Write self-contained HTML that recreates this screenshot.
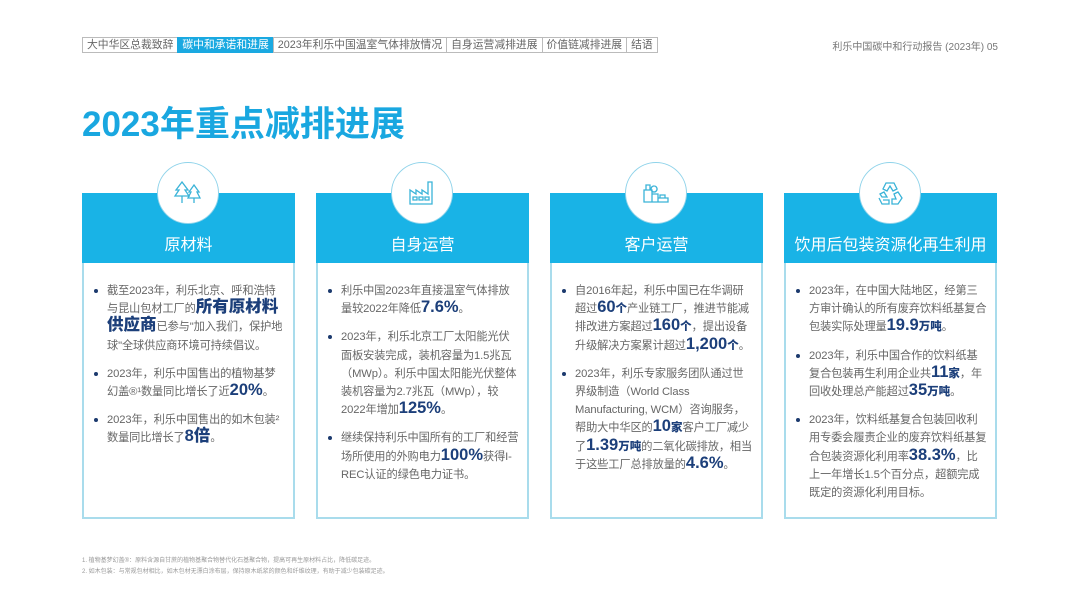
<!DOCTYPE html>
<html><head><meta charset="utf-8">
<style>
*{margin:0;padding:0;box-sizing:border-box}
body{width:1080px;height:616px;background:#fff;font-family:"Liberation Sans","Noto Sans CJK SC",sans-serif;position:relative;overflow:hidden;color:#555}
.nav{position:absolute;top:37px;left:82px;display:flex;font-size:10.8px;color:#666}
.nav div{border:1px solid #bbb;margin-right:-1px;height:16px;line-height:14px;padding:0 4px;white-space:nowrap}
.nav .on{background:#1aa9e1;color:#fff;border-color:#1aa9e1}
.pg{position:absolute;top:38px;right:82px;font-size:10px;color:#777}
h1{position:absolute;left:82px;top:96px;font-size:35px;color:#19a7e0;font-weight:bold}
.card{position:absolute;top:193px;width:213px;height:326px;border:2px solid #a9dcec}
.hd{position:absolute;left:-2px;top:-2px;width:213px;height:70px;background:#19b3e6;color:#fff;font-size:16px;text-align:center;padding-top:38px}
.ic{position:absolute;left:74px;top:-32px;width:60px;height:60px;border-radius:50%;border:3px solid #fff;box-shadow:0 0 0 1px #8fd3ea;background:#fff}
.ic svg{position:absolute;left:12px;top:12px;width:30px;height:30px;fill:none;stroke:#3ab3d8;stroke-width:1.3}
ul{position:absolute;top:87px;left:10px;right:8px;list-style:none;font-size:11.2px;line-height:18.2px;color:#666;letter-spacing:-0.1px}
li{position:relative;padding-left:13px;margin-bottom:10px}
li:before{content:"";position:absolute;left:0;top:7px;width:4px;height:4px;border-radius:50%;background:#1c3a6e}
b{color:#1c3f7a;font-size:16.5px;font-weight:900;letter-spacing:0;line-height:10px}
b span{font-size:11.5px}
.fn{position:absolute;left:82px;font-size:6px;color:#999}
</style></head><body>
<div class="nav">
<div>大中华区总裁致辞</div>
<div class="on">碳中和承诺和进展</div>
<div>2023年利乐中国温室气体排放情况</div>
<div>自身运营减排进展</div>
<div>价值链减排进展</div>
<div>结语</div>
</div>
<div class="pg">利乐中国碳中和行动报告 (2023年) 05</div>
<h1>2023年重点减排进展</h1>

<div class="card" style="left:82px">
<div class="hd">原材料</div>
<div class="ic"><svg viewBox="0 0 30 30"><path d="M9 4 L3 12 H6 L2 18 H16 L12 12 H15 Z M9 18 V25 M21 7 L16 14 H18 L15 20 H27 L24 14 H26 Z M21 20 V25"/></svg></div>
<ul><li>截至2023年，利乐北京、呼和浩特与昆山包材工厂的<b>所有原材料供应商</b>已参与"加入我们，保护地球"全球供应商环境可持续倡议。</li>
<li>2023年，利乐中国售出的植物基梦幻盖®¹数量同比增长了近<b>20%</b>。</li>
<li>2023年，利乐中国售出的如木包装²数量同比增长了<b>8倍</b>。</li></ul>
</div>

<div class="card" style="left:316px">
<div class="hd">自身运营</div>
<div class="ic"><svg viewBox="0 0 30 30"><path d="M3 26 V12 L9 16 V12 L15 16 V12 L21 16 V4 H25 V26 Z M6 19 H10 V22 H6 Z M12 19 H16 V22 H12 Z M18 19 H22 V22 H18 Z"/></svg></div>
<ul><li>利乐中国2023年直接温室气体排放量较2022年降低<b>7.6%</b>。</li>
<li>2023年，利乐北京工厂太阳能光伏面板安装完成，装机容量为1.5兆瓦（MWp）。利乐中国太阳能光伏整体装机容量为2.7兆瓦（MWp），较2022年增加<b>125%</b>。</li>
<li>继续保持利乐中国所有的工厂和经营场所使用的外购电力<b>100%</b>获得I-REC认证的绿色电力证书。</li></ul>
</div>

<div class="card" style="left:550px">
<div class="hd">客户运营</div>
<div class="ic"><svg viewBox="0 0 30 30"><path d="M3 24 V12 H11 V24 Z M5 12 V7 H9 V12 M11 16 H17 V24 H11 M17 20 H27 V24 H17 M19 20 V17 H24 V20 M13 8 A3 3 0 1 0 13.1 8"/></svg></div>
<ul><li>自2016年起，利乐中国已在华调研超过<b>60<span>个</span></b>产业链工厂，推进节能减排改进方案超过<b>160<span>个</span></b>，提出设备升级解决方案累计超过<b>1,200<span>个</span></b>。</li>
<li>2023年，利乐专家服务团队通过世界级制造（World Class Manufacturing, WCM）咨询服务，帮助大中华区的<b>10<span>家</span></b>客户工厂减少了<b>1.39<span>万吨</span></b>的二氧化碳排放，相当于这些工厂总排放量的<b>4.6%</b>。</li></ul>
</div>

<div class="card" style="left:784px">
<div class="hd">饮用后包装资源化再生利用</div>
<div class="ic"><svg viewBox="0 0 30 30"><path d="M11 5 H19 L22 11 L18 13 L15 8 L12 13 L8 11 Z M5 16 L9 14 L12 19 H7 Z M4 20 L7 26 H14 V22 H8 M23 14 L27 20 L23 26 H17 V21 L21 21 L19 16 Z"/></svg></div>
<ul><li>2023年，在中国大陆地区，经第三方审计确认的所有废弃饮料纸基复合包装实际处理量<b>19.9<span>万吨</span></b>。</li>
<li>2023年，利乐中国合作的饮料纸基复合包装再生利用企业共<b>11<span>家</span></b>，年回收处理总产能超过<b>35<span>万吨</span></b>。</li>
<li>2023年，饮料纸基复合包装回收利用专委会履责企业的废弃饮料纸基复合包装资源化利用率<b>38.3%</b>，比上一年增长1.5个百分点，超额完成既定的资源化利用目标。</li></ul>
</div>

<div class="fn" style="top:555px">1. 植物基梦幻盖®：原料含源自甘蔗的植物基聚合物替代化石基聚合物，提高可再生原材料占比，降低碳足迹。</div>
<div class="fn" style="top:566px">2. 如木包装：与常规包材相比，如木包材无漂白涂布层，保持原木纸浆的颜色和纤维纹理，有助于减少包装碳足迹。</div>
</body></html>
